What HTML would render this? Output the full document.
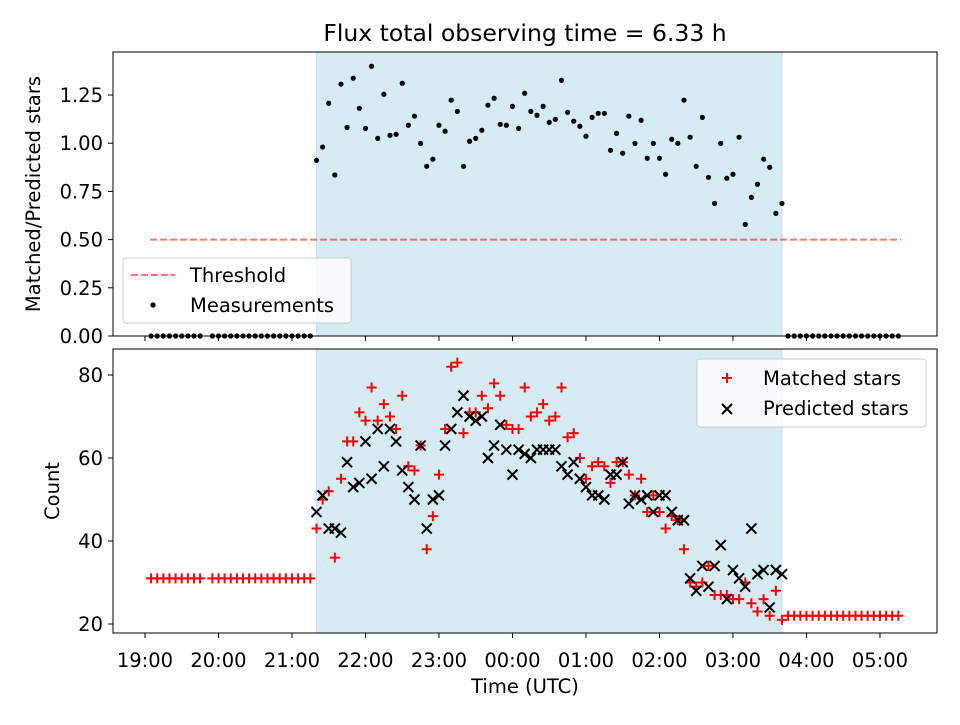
<!DOCTYPE html>
<html><head><meta charset="utf-8"><style>
body{margin:0;background:#fff}
svg{font-family:"DejaVu Sans","Liberation Sans",sans-serif}
</style></head><body>
<svg id="c" width="960" height="720" xmlns="http://www.w3.org/2000/svg"></svg>
<script>
const ratio=[0.911,0.980,1.207,0.835,1.306,1.082,1.337,1.181,1.077,1.399,1.025,1.254,1.041,1.046,1.311,1.093,1.140,0.999,0.880,0.917,1.093,1.062,1.223,1.165,0.880,1.010,1.025,1.067,1.197,1.233,1.098,1.093,1.191,1.077,1.259,1.165,1.145,1.191,1.108,1.124,1.326,1.160,1.114,1.088,1.036,1.134,1.155,1.155,0.963,1.051,0.948,1.140,0.999,1.119,0.922,0.999,0.922,0.839,1.020,0.999,1.223,1.031,0.880,1.134,0.823,0.688,0.999,0.818,0.839,1.031,0.579,0.719,0.787,0.917,0.875,0.636,0.688];
const matched=[43,50,52,36,55,64,64,71,69,77,69,73,70,67,75,58,57,63,38,46,56,67,82,83,66,71,71,75,72,78,75,68,67,67,77,70,71,73,69,70,77,65,66,60,55,58,59,58,54,59,59,56,51,55,47,51,47,43,46,45,38,30,29,30,34,27,27,27,26,26,30,25,23,26,22,28,21];
const predicted=[47,51,43,43,42,59,53,54,64,55,67,58,67,64,57,53,50,63,43,50,51,63,67,71,75,70,69,70,60,63,68,62,56,62,61,60,62,62,62,62,58,56,59,55,53,51,51,50,56,56,59,49,51,50,51,47,51,51,47,45,45,31,28,34,29,34,39,26,33,31,29,43,32,33,24,33,32];
const preRatio=[0,0,0,0,0,0,0,0,0,0,0,0,0,0,0,0,0,0,0,0,0,0,0,0,0,0];
const preCount=[31,31,31,31,31,31,31,31,31,31,31,31,31,31,31,31,31,31,31,31,31,31,31,31,31,31];
const postRatio=[0,0,0,0,0,0,0,0,0,0,0,0,0,0,0,0,0,0,0];
const postCount=[22,22,22,22,22,22,22,22,22,22,22,22,22,22,22,22,22,22,22];
const xTicks=["19:00","20:00","21:00","22:00","23:00","00:00","01:00","02:00","03:00","04:00","05:00"];
const topTicks=["0.00","0.25","0.50","0.75","1.00","1.25"];
const botTicks=[20,40,60,80];
const threshold=0.5;

const NS="http://www.w3.org/2000/svg";
const svg=document.getElementById('c');
function el(t,a,p){const e=document.createElementNS(NS,t);for(const k in a)e.setAttribute(k,a[k]);(p||svg).appendChild(e);return e;}
const FS=19.5;
const L=113,R=937,T1=52,B1=336,T2=349,B2=633;
const X=h=>L+(h-18.565)/(29.776-18.565)*(R-L);
const Y1=v=>B1-v/1.473*(B1-T1);
const Y2=v=>B2-(v-17.83)/(86.27-17.83)*(B2-T2);
const tMeas=matched.map((_,i)=>21+20/60+i*5/60);
const tPre=[];for(let m=5;m<=135;m+=5){if(m!==50)tPre.push(19+m/60);}
const tPost=postCount.map((_,i)=>27.75+i*5/60);
const span0=tMeas[0], span1=tMeas[tMeas.length-1];

[[T1,B1,'top'],[T2,B2,'bottom']].forEach(([t,b,n])=>{
 let s=el('rect',{x:X(span0),y:t,width:X(span1)-X(span0),height:b-t,fill:'#add8e6','fill-opacity':0.5,stroke:'#add8e6','stroke-opacity':0.6});
 
});
let th=el('line',{x1:X(19.07),x2:X(29.29),y1:Y1(threshold),y2:Y1(threshold),stroke:'#ff0000','stroke-opacity':0.55,'stroke-width':2,'stroke-dasharray':'7,3'});

const g1=el('g',{});
const allT=[...tPre,...tMeas,...tPost],allR=[...preRatio,...ratio,...postRatio];
allT.forEach((t,i)=>{const c=el('circle',{cx:X(t),cy:Y1(allR[i]),r:2.6,fill:'#000'},g1);});
const plus=(x,y,g)=>{const p=el('path',{d:`M${x-5} ${y}H${x+5}M${x} ${y-5}V${y+5}`,stroke:'#f00','stroke-width':2},g);};
const cross=(x,y,g)=>{const p=el('path',{d:`M${x-5} ${y-5}L${x+5} ${y+5}M${x-5} ${y+5}L${x+5} ${y-5}`,stroke:'#000','stroke-width':2},g);};
const gm=el('g',{});
const gp=el('g',{});
const allC=[...preCount,...matched,...postCount];
allT.forEach((t,i)=>plus(X(t),Y2(allC[i]),gm));
tMeas.forEach((t,i)=>cross(X(t),Y2(predicted[i]),gp));
[[T1,B1,'top-axes-frame'],[T2,B2,'bottom-axes-frame']].forEach(([t,b,n])=>{const r=el('rect',{x:L,y:t,width:R-L,height:b-t,fill:'none',stroke:'#000','stroke-width':1});});
xTicks.forEach((lab,i)=>{const x=X(19+i);
 el('line',{x1:x,x2:x,y1:B1,y2:B1+5,stroke:'#000'});
 el('line',{x1:x,x2:x,y1:B2,y2:B2+5,stroke:'#000'});
 const tx=el('text',{x:x,y:667,'text-anchor':'middle','font-size':FS});tx.textContent=lab;
 });
topTicks.forEach((lab,i)=>{const y=Y1(i*0.25);el('line',{x1:L-5,x2:L,y1:y,y2:y,stroke:'#000'});
 const tx=el('text',{x:L-10,y:y+7,'text-anchor':'end','font-size':FS});tx.textContent=lab;
 });
botTicks.forEach(v=>{const y=Y2(v);el('line',{x1:L-5,x2:L,y1:y,y2:y,stroke:'#000'});
 const tx=el('text',{x:L-10,y:y+7,'text-anchor':'end','font-size':FS});tx.textContent=v;
 });
function txt(s,a,n){const t=el('text',a);t.textContent=s;return t;}
txt('Flux total observing time = 6.33 h',{x:525,y:41,'text-anchor':'middle','font-size':23.5},'chart-title');
txt('Matched/Predicted stars',{x:0,y:0,'text-anchor':'middle','font-size':FS,transform:'translate(40,194) rotate(-90)'},'top-y-axis-title');
txt('Count',{x:0,y:0,'text-anchor':'middle','font-size':FS,transform:'translate(59,491) rotate(-90)'},'bottom-y-axis-title');
txt('Time (UTC)',{x:525,y:693,'text-anchor':'middle','font-size':FS},'x-axis-title');
const lg1=el('g',{});
el('rect',{x:123,y:258,width:228,height:65,rx:3,fill:'#fff','fill-opacity':0.8,stroke:'#ccc'},lg1);
el('line',{x1:131,x2:175,y1:275,y2:275,stroke:'#f00','stroke-opacity':0.55,'stroke-width':2,'stroke-dasharray':'7,3'},lg1);
el('circle',{cx:153,cy:305,r:2.6,fill:'#000'},lg1);
const l1=el('text',{x:190,y:282,'font-size':FS},lg1);l1.textContent='Threshold';
const l2=el('text',{x:190,y:312,'font-size':FS},lg1);l2.textContent='Measurements';
const lg2=el('g',{});
el('rect',{x:697,y:359,width:229,height:68,rx:3,fill:'#fff','fill-opacity':0.8,stroke:'#ccc'},lg2);
plus(727,378,lg2);cross(727,409,lg2);
const l3=el('text',{x:763,y:385,'font-size':FS},lg2);l3.textContent='Matched stars';
const l4=el('text',{x:763,y:415,'font-size':FS},lg2);l4.textContent='Predicted stars';
</script>
</body></html>
